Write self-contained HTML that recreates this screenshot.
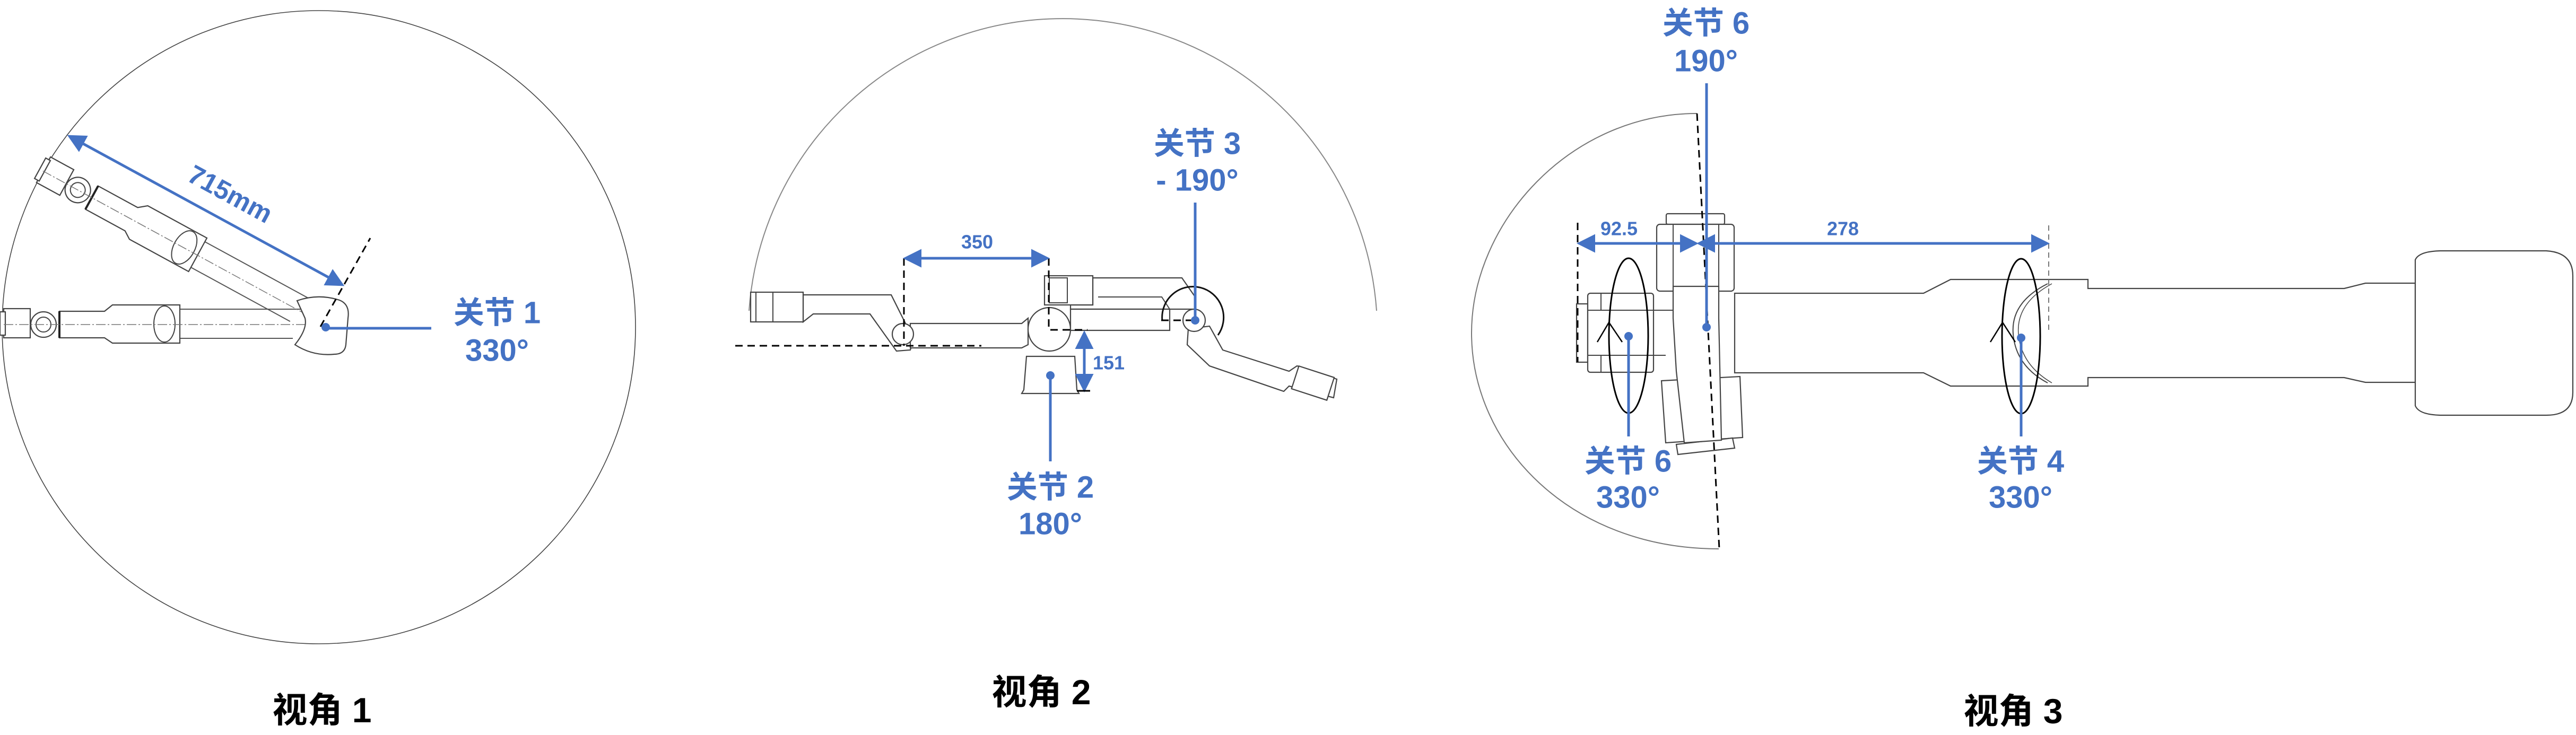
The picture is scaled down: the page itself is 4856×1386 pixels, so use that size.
<!DOCTYPE html>
<html><head><meta charset="utf-8"><style>
html,body{margin:0;padding:0;background:#fff;}
svg{display:block;}
.b{fill:#4472C4;font-family:"Liberation Sans","Noto Sans CJK SC",sans-serif;font-weight:bold;}
.t{fill:#000;font-family:"Liberation Sans","Noto Sans CJK SC",sans-serif;font-weight:bold;}
.p{fill:#fff;stroke:#444;stroke-width:2.2;}
.l{fill:none;stroke:#444;stroke-width:2;}
.d{fill:none;stroke:#000;stroke-width:3;stroke-dasharray:14 9;}
.bl{stroke:#4472C4;stroke-width:5;fill:none;}
</style></head><body>
<svg width="4856" height="1386" viewBox="0 0 4856 1386" xmlns="http://www.w3.org/2000/svg">
<defs>
<marker id="ah" markerWidth="7" markerHeight="7" refX="6" refY="3.5" orient="auto-start-reverse" markerUnits="strokeWidth"><path d="M0,0 L7,3.5 L0,7 Z" fill="#4472C4"/></marker>
<g id="arm1">
  <line x1="-273" y1="-29" x2="-40" y2="-29" stroke="#555" stroke-width="2"/>
  <line x1="-273" y1="26" x2="-60" y2="26" stroke="#555" stroke-width="2"/>
  <path class="p" d="M-273,-37 L-400,-37 L-415,-25 L-500,-25 L-500,25 L-415,25 L-400,35 L-273,35 Z"/>
  <ellipse class="l" cx="-302" cy="-1" rx="20" ry="34"/>
  <line x1="-500" y1="-25" x2="-500" y2="25" stroke="#222" stroke-width="4"/>
  <circle class="p" cx="-530" cy="0" r="24"/>
  <circle class="l" cx="-530" cy="0" r="14"/>
  <rect class="p" x="-605" y="-30" width="50" height="55"/>
  <rect class="p" x="-612" y="-24" width="10" height="44"/>
  <line x1="-605" y1="0" x2="-5" y2="0" stroke="#777" stroke-width="1.5" stroke-dasharray="18 4 3 4"/>
</g>
</defs>

<!-- ===== VIEW 1 ===== -->
<circle cx="601" cy="617" r="597" fill="none" stroke="#444" stroke-width="1.6"/>
<use href="#arm1" transform="translate(612,612)"/>
<use href="#arm1" transform="translate(612,612) rotate(28.6)"/>
<path class="p" d="M560,567 Q600,553 640,566 Q660,574 656,600 L652,650 Q650,668 630,668 Q590,672 556,650 Q580,620 575,600 Z"/>
<line x1="604" y1="616" x2="698" y2="449" class="d"/>
<line x1="131" y1="257" x2="645" y2="537" class="bl" marker-start="url(#ah)" marker-end="url(#ah)" stroke-width="4"/>
<text class="b" x="434" y="366" font-size="50" text-anchor="middle" dominant-baseline="central" transform="rotate(28.6 434 366)">715mm</text>
<circle cx="614" cy="617" r="8" fill="#4472C4"/>
<line x1="614" y1="619" x2="813" y2="619" class="bl"/>
<text class="b" x="937" y="590" font-size="58" text-anchor="middle" dominant-baseline="central">关节 1</text>
<text class="b" x="937" y="661" font-size="58" text-anchor="middle" dominant-baseline="central">330°</text>
<text class="t" x="607" y="1339" font-size="66" text-anchor="middle" dominant-baseline="central">视角 1</text>

<!-- ===== VIEW 2 ===== -->
<path d="M1412,586 A593,593 0 0 1 2595,586" fill="none" stroke="#888" stroke-width="2"/>
<path class="p" d="M1514,556 L1680,556 L1722,640 L1716,660 L1690,662 L1640,592 L1533,592 L1514,607 Z"/>
<rect class="p" x="1415" y="551" width="99" height="56"/>
<rect class="l" x="1425" y="551" width="32" height="56"/>
<path class="p" d="M1716,610 L1926,610 L1938,600 L1938,650 L1926,656 L1716,656 Z"/>
<circle class="p" cx="1702" cy="630" r="20"/>
<path class="p" d="M1935,672 L2026,672 L2030,735 L2034,742 L1926,742 L1930,735 Z"/>
<ellipse class="p" cx="1978" cy="621" rx="40" ry="41"/>
<path class="p" d="M2060,524 L2228,524 L2253,560 L2253,583 L2018,583 L2018,575 L2060,575 Z"/>
<path class="l" d="M2070,560 L2190,560 L2205,583"/>
<rect class="p" x="1969" y="520" width="91" height="55"/>
<rect class="l" x="1978" y="524" width="34" height="47"/>
<path class="p" d="M2018,583 L2205,583 L2205,623 L2018,623 Z"/>
<path class="p" d="M2240,620 L2280,615 L2305,660 L2430,700 L2445,690 L2520,715 L2514,750 L2430,728 L2420,738 L2280,690 L2238,650 Z"/>
<rect class="p" x="2440" y="700" width="70" height="45" transform="rotate(18 2475 722)"/>
<circle class="p" cx="2251" cy="604" r="21"/>
<path d="M2191,605 A58,58 0 1 1 2296,632" fill="none" stroke="#111" stroke-width="3"/>
<line x1="1704" y1="487" x2="1704" y2="652" class="d"/>
<line x1="1386" y1="652" x2="1850" y2="652" class="d"/>
<polyline points="1977,487 1977,622 2050,622" class="d"/>
<line x1="2189" y1="604" x2="2251" y2="604" class="d"/>
<line x1="1707" y1="487" x2="1974" y2="487" class="bl" stroke-width="4" marker-start="url(#ah)" marker-end="url(#ah)"/>
<text class="b" x="1842" y="456" font-size="36" text-anchor="middle" dominant-baseline="central">350</text>
<line x1="2044" y1="628" x2="2044" y2="735" class="bl" stroke-width="4" marker-start="url(#ah)" marker-end="url(#ah)"/>
<line x1="2030" y1="737" x2="2055" y2="737" stroke="#000" stroke-width="3"/>
<text class="b" x="2090" y="684" font-size="36" text-anchor="middle" dominant-baseline="central">151</text>
<line x1="2253" y1="382" x2="2253" y2="604" class="bl"/>
<circle cx="2253" cy="604" r="8" fill="#4472C4"/>
<text class="b" x="2257" y="271" font-size="58" text-anchor="middle" dominant-baseline="central">关节 3</text>
<text class="b" x="2257" y="340" font-size="58" text-anchor="middle" dominant-baseline="central">- 190°</text>
<line x1="1980" y1="708" x2="1980" y2="870" class="bl"/>
<circle cx="1980" cy="708" r="8" fill="#4472C4"/>
<text class="b" x="1980" y="919" font-size="58" text-anchor="middle" dominant-baseline="central">关节 2</text>
<text class="b" x="1980" y="988" font-size="58" text-anchor="middle" dominant-baseline="central">180°</text>
<text class="t" x="1963" y="1305" font-size="66" text-anchor="middle" dominant-baseline="central">视角 2</text>

<!-- ===== VIEW 3 ===== -->
<path d="M3199,214 C2960,214 2774,420 2774,628 C2774,840 2960,1035 3240,1035" fill="none" stroke="#777" stroke-width="2"/>
<path class="p" d="M3270,553 L3282,553 L3626,553 L3677,527 L3936,527 L3936,544 L4419,544 L4459,534 L4553,534 L4553,721 L4459,721 L4419,712 L3936,712 L3936,728 L3677,728 L3626,703 L3282,703 L3270,703 Z"/>
<path class="p" d="M4553,490 Q4560,474 4600,473 L4800,473 Q4850,476 4850,520 L4850,740 Q4850,783 4800,783 L4600,783 Q4560,782 4553,765 Z"/>
<path d="M3860,535 Q3790,570 3795,630 Q3800,690 3860,722" fill="none" stroke="#444" stroke-width="2"/>
<path d="M3868,535 Q3800,572 3805,630 Q3810,688 3868,722" fill="none" stroke="#444" stroke-width="1.5"/>
<rect class="p" x="2972" y="573" width="21" height="110"/>
<rect class="p" x="2993" y="553" width="124" height="149" rx="5"/>
<line x1="2993" y1="585" x2="3155" y2="585" stroke="#444" stroke-width="2"/>
<line x1="2993" y1="670" x2="3140" y2="670" stroke="#444" stroke-width="2"/>
<line x1="3018" y1="553" x2="3018" y2="585" stroke="#444" stroke-width="2"/>
<line x1="3018" y1="670" x2="3018" y2="702" stroke="#444" stroke-width="2"/>
<rect class="p" x="3141" y="403" width="110" height="20" rx="3"/>
<rect class="p" x="3123" y="423" width="146" height="126" rx="6"/>
<line x1="3154" y1="423" x2="3154" y2="540" stroke="#444" stroke-width="2"/>
<line x1="3240" y1="423" x2="3240" y2="549" stroke="#444" stroke-width="2"/>
<path class="p" d="M3132,718 L3280,710 L3285,825 L3140,835 Z"/>
<path class="p" d="M3160,838 L3266,826 L3270,845 L3163,857 Z"/>
<path class="p" d="M3154,540 L3240,540 L3240,600 L3245,830 L3175,835 L3160,700 L3154,600 Z"/>
<line x1="3199" y1="214" x2="3241" y2="1035" class="d"/>
<line x1="2974" y1="420" x2="2974" y2="683" class="d" stroke-width="2.5"/>
<line x1="3862" y1="425" x2="3862" y2="628" stroke="#777" stroke-width="2" stroke-dasharray="10 7"/>
<ellipse cx="3070" cy="633" rx="37" ry="146" fill="none" stroke="#000" stroke-width="3"/>
<ellipse cx="3810" cy="634" rx="36" ry="146" fill="none" stroke="#000" stroke-width="3"/>
<polyline points="3011,645 3033,608 3058,645" fill="none" stroke="#000" stroke-width="2.5"/>
<polyline points="3752,645 3775,608 3799,645" fill="none" stroke="#000" stroke-width="2.5"/>
<line x1="2977" y1="459" x2="3197" y2="459" class="bl" stroke-width="4" marker-start="url(#ah)" marker-end="url(#ah)"/>
<line x1="3203" y1="459" x2="3859" y2="459" class="bl" stroke-width="4" marker-start="url(#ah)" marker-end="url(#ah)"/>
<text class="b" x="3052" y="431" font-size="36" text-anchor="middle" dominant-baseline="central">92.5</text>
<text class="b" x="3474" y="431" font-size="36" text-anchor="middle" dominant-baseline="central">278</text>
<line x1="3217" y1="157" x2="3217" y2="617" class="bl"/>
<circle cx="3217" cy="617" r="8" fill="#4472C4"/>
<text class="b" x="3216" y="44" font-size="58" text-anchor="middle" dominant-baseline="central">关节 6</text>
<text class="b" x="3216" y="115" font-size="58" text-anchor="middle" dominant-baseline="central">190°</text>
<line x1="3070" y1="634" x2="3070" y2="823" class="bl"/>
<circle cx="3070" cy="634" r="8" fill="#4472C4"/>
<text class="b" x="3069" y="870" font-size="58" text-anchor="middle" dominant-baseline="central">关节 6</text>
<text class="b" x="3069" y="938" font-size="58" text-anchor="middle" dominant-baseline="central">330°</text>
<line x1="3810" y1="637" x2="3810" y2="823" class="bl"/>
<circle cx="3810" cy="637" r="8" fill="#4472C4"/>
<text class="b" x="3809" y="870" font-size="58" text-anchor="middle" dominant-baseline="central">关节 4</text>
<text class="b" x="3809" y="938" font-size="58" text-anchor="middle" dominant-baseline="central">330°</text>
<text class="t" x="3795" y="1341" font-size="66" text-anchor="middle" dominant-baseline="central">视角 3</text>
</svg>
</body></html>
